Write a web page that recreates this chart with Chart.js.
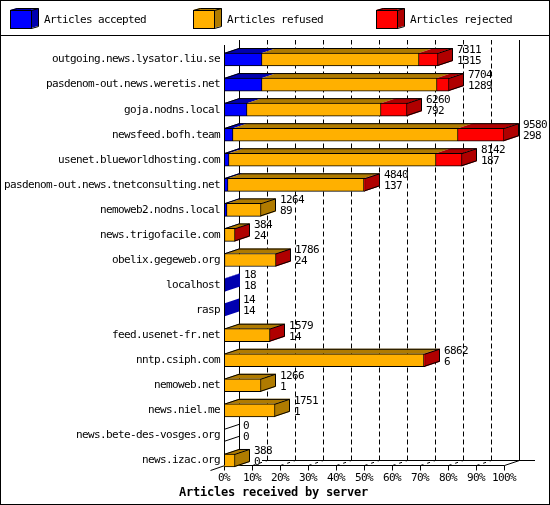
<!DOCTYPE html>
<html>
<head>
<meta charset="utf-8">
<style>
  html,body{margin:0;padding:0;background:#fff}
  canvas{display:block}
</style>
<script src="https://cdn.jsdelivr.net/npm/chart.js@4"></script>
</head>
<body>
<canvas id="chart" width="550" height="505"></canvas>
<script>
// Articles received by server - horizontal stacked bars with a fake 3D box around them
const categories = ["outgoing.news.lysator.liu.se","pasdenom-out.news.weretis.net","goja.nodns.local","newsfeed.bofh.team","usenet.blueworldhosting.com","pasdenom-out.news.tnetconsulting.net","nemoweb2.nodns.local","news.trigofacile.com","obelix.gegeweb.org","localhost","rasp","feed.usenet-fr.net","nntp.csiph.com","nemoweb.net","news.niel.me","news.bete-des-vosges.org","news.izac.org"];
const accepted = [1315,1289,792,298,187,137,89,24,24,18,14,14,6,1,1,0,0];
const refused  = [5367,6005,4565,7719,7065,4643,1175,355,1750,0,0,1555,6836,1265,1750,0,388];
const rejected = [629,410,903,1563,890,60,0,5,12,0,0,10,20,0,0,0,0];
const seriesNames = ["Articles accepted","Articles refused","Articles rejected"];
const fronts = ["#0000ff","#ffb000","#ff0000"];
const shades = ["#0000b0","#b07b00","#b00000"];
const maxTotal = 9580;

const DX = 15, DY = -5;
const MONO = '"DejaVu Sans Mono", monospace';
// the original font is tall and narrow: 11px glyphs squeezed on a 6px pitch
const TEXT_SPACING = '-0.62px', TITLE_SPACING = '-0.22px';
const series = [accepted, refused, rejected];

function poly(ctx, pts, fill){
  ctx.beginPath();
  pts.forEach((p,i)=> i ? ctx.lineTo(p[0],p[1]) : ctx.moveTo(p[0],p[1]));
  ctx.closePath();
  ctx.fillStyle = fill;
  ctx.fill();
}
function line(ctx, x1, y1, x2, y2){
  ctx.beginPath(); ctx.moveTo(x1,y1); ctx.lineTo(x2,y2); ctx.stroke();
}

const box3d = {
  id: 'box3d',
  afterLayout(chart){
    // title is centred on the whole image, not on the padded area
    const t = chart.titleBlock;
    t.left = 0; t.right = 547;
    const drawTitle = t.draw.bind(t);
    t.draw = ()=>{
      chart.ctx.letterSpacing = TITLE_SPACING;
      drawTitle();
      chart.ctx.letterSpacing = TEXT_SPACING;
    };
  },
  afterDatasetsUpdate(chart){
    // snap the bars to whole pixels, the original has no antialiasing
    chart.data.datasets.forEach((d,i)=>{
      chart.getDatasetMeta(i).data.forEach(el=>{ el.x = Math.round(el.x); el.base = Math.round(el.base); });
    });
  },
  beforeDraw(chart){
    const {ctx, width, height} = chart;
    ctx.letterSpacing = TEXT_SPACING;
    ctx.save();
    ctx.fillStyle = '#fff'; ctx.fillRect(0,0,width,height);
    ctx.strokeStyle = '#000'; ctx.lineWidth = 1;
    ctx.strokeRect(.5,.5,width-1,height-1);
    line(ctx,0,35.5,width,35.5);
    // legend
    ctx.font = '11px '+MONO; ctx.textBaseline = 'middle'; ctx.textAlign = 'left';
    seriesNames.forEach((name,i)=>{
      const x = 10 + 183*i;
      poly(ctx,[[x+21,10],[x+28,8],[x+28,26],[x+21,28]],shades[i]);
      poly(ctx,[[x,10],[x+7,8],[x+28,8],[x+21,10]],shades[i]);
      ctx.fillStyle = fronts[i]; ctx.fillRect(x,10,21,18);
      ctx.strokeRect(x+.5,10.5,21,18);
      ctx.beginPath(); ctx.moveTo(x+.5,10.5); ctx.lineTo(x+7.5,8.5); ctx.lineTo(x+28.5,8.5); ctx.lineTo(x+28.5,26.5); ctx.lineTo(x+21.5,28.5); ctx.moveTo(x+21.5,10.5); ctx.lineTo(x+28.5,8.5); ctx.stroke();
      ctx.fillStyle = '#000';
      ctx.fillText(name, x+34, 20);
    });
    ctx.restore();
  },
  beforeDatasetsDraw(chart){
    const {ctx, scales:{x,y}} = chart;
    const x0 = x.getPixelForValue(0), x1 = x.getPixelForValue(maxTotal);
    const floor = 465.5, backFloor = floor+DY, top = 40;
    ctx.save();
    ctx.strokeStyle = '#000'; ctx.lineWidth = 1;
    // back wall
    x.ticks.forEach((t,i)=>{
      const px = Math.round(x.getPixelForValue(t.value))+.5;
      if(i===0 || i===x.ticks.length-1){
        line(ctx,px+DX,top,px+DX,backFloor);
      } else {
        ctx.setLineDash([5,3]);
        line(ctx,px+DX,backFloor,px+DX,top);
        ctx.setLineDash([3,4]);
        line(ctx,px,floor,px+DX,backFloor);
        ctx.setLineDash([]);
      }
      line(ctx,px,floor,px,floor+5);
    });
    // floor
    line(ctx,x0+.5,floor,x1+.5,floor);
    line(ctx,x0+.5-14,floor+5,x0+.5+DX,backFloor);
    line(ctx,x1+.5,floor,x1+.5+DX,backFloor);
    line(ctx,x0+DX+23,backFloor,x1+31,backFloor);
    // top and side faces of the bars
    categories.forEach((c,i)=>{
      const front = chart.getDatasetMeta(0).data[i];
      const t = front.y-front.height/2, b = front.y+front.height/2;
      let start = x0, last = -1;
      const total = accepted[i]+refused[i]+rejected[i];
      series.forEach((s,k)=>{
        if(!s[i]) return;
        const end = chart.getDatasetMeta(k).data[i].x;
        poly(ctx,[[start,t],[start+DX,t+DY],[end+DX,t+DY],[end,t]],shades[k]);
        start = end; last = k;
      });
      if(total===0){
        line(ctx,x0,t+.5,x0+DX,t+DY+.5);
        line(ctx,x0,b-.5,x0+DX,b+DY-.5);
        return;
      }
      poly(ctx,[[start,t],[start+DX,t+DY],[start+DX,b+DY],[start,b]],shades[last]);
      if(refused[i]+rejected[i]>0){
        ctx.beginPath();
        ctx.moveTo(x0,t+.5); ctx.lineTo(x0+DX,t+DY+.5); ctx.lineTo(start+DX-.5,t+DY+.5);
        ctx.lineTo(start+DX-.5,b+DY-.5); ctx.lineTo(start-.5,b-.5);
        ctx.moveTo(start-.5,t+.5); ctx.lineTo(start+DX-.5,t+DY+.5);
        ctx.stroke();
      }
    });
    ctx.restore();
  },
  afterDatasetsDraw(chart){
    const {ctx, scales:{x}} = chart;
    const x0 = x.getPixelForValue(0)+.5;
    ctx.save();
    ctx.strokeStyle = '#000'; ctx.lineWidth = 1;
    line(ctx,x0,45,x0,465.5);
    // totals and accepted counts next to each bar
    ctx.font = '11px '+MONO; ctx.fillStyle = '#000';
    ctx.textAlign = 'left'; ctx.textBaseline = 'middle';
    categories.forEach((c,i)=>{
      const el = chart.getDatasetMeta(0).data[i];
      const total = accepted[i]+refused[i]+rejected[i];
      const px = Math.round(x.getPixelForValue(total))+19;
      ctx.fillText(String(total), px, el.y-9.5);
      ctx.fillText(String(accepted[i]), px, el.y+1.5);
    });
    ctx.restore();
  }
};

new Chart(document.getElementById('chart'), {
  type: 'bar',
  data: {
    labels: categories,
    datasets: seriesNames.map((name,k)=>({
      label: name,
      data: series[k],
      backgroundColor: fronts[k],
      borderColor: '#000',
      borderWidth: 1,
      borderSkipped: k===0 ? false : 'left',
      barThickness: 13
    }))
  },
  plugins: [box3d],
  options: {
    indexAxis: 'y',
    responsive: false,
    animation: false,
    layout: { padding: {top:47, right:46, bottom:6, left:0} },
    scales: {
      x: {
        stacked: true, min: 0, max: maxTotal,
        grid: {display:false, drawTicks:false}, border: {display:false},
        afterFit(s){ s.height = 14; },
        ticks: {
          stepSize: 958, padding: 0, color: '#000', maxRotation: 0, autoSkip: false,
          font: {family: MONO, size: 11, lineHeight: 1},
          callback: v => Math.round(v/958)*10 + '%'
        }
      },
      y: {
        stacked: true,
        grid: {display:false, drawTicks:false}, border: {display:false},
        afterFit(s){ s.width = 224; },
        ticks: { padding: 4, color: '#000', autoSkip: false, font: {family: MONO, size: 11} }
      }
    },
    plugins: {
      legend: {display:false},
      tooltip: {enabled:false},
      title: {
        display: true, text: 'Articles received by server', position: 'bottom',
        color: '#000', padding: 0,
        font: {family: MONO, size: 12, weight: 'bold', lineHeight: 1}
      }
    }
  }
});
</script>
</body>
</html>
